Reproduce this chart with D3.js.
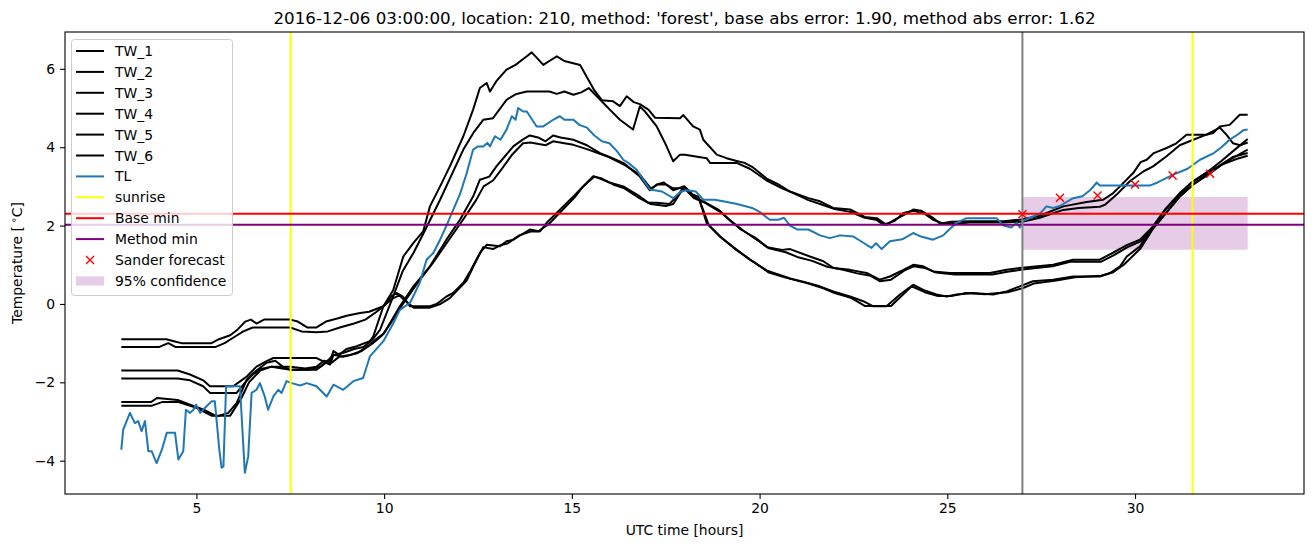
<!DOCTYPE html>
<html>
<head>
<meta charset="utf-8">
<script src="https://cdn.jsdelivr.net/npm/d3@7"></script>
<style>
body { margin: 0; background: #fff; }
text { font-family: "DejaVu Sans", sans-serif; fill: #000; }
</style>
</head>
<body>
<script>
/** Chart data (hours, degrees C) **/
var tw1 = [[3,-0.9],[4.2,-0.9],[4.4,-0.95],[4.6,-1.0],[5.4,-1.0],[5.6,-0.9],[5.9,-0.8],[6.1,-0.65],[6.3,-0.45],[6.45,-0.4],[6.6,-0.5],[6.8,-0.4],[7.5,-0.4],[7.7,-0.45],[7.95,-0.6],[8.2,-0.6],[8.45,-0.45],[8.8,-0.36],[9.0,-0.3],[9.36,-0.23],[9.6,-0.2],[9.98,-0.06],[10.2,0.2],[10.33,0.28],[10.5,0.19],[10.69,-0.06],[11.22,-0.06],[11.4,0.0],[11.66,0.19],[11.84,0.28],[12.11,0.54],[12.3,0.85],[12.55,1.3],[12.73,1.51],[13.08,1.47],[13.26,1.6],[13.44,1.64],[13.88,1.9],[14.15,1.85],[14.33,2.07],[14.5,2.23],[15.04,2.74],[15.22,2.92],[15.57,3.26],[15.75,3.2],[16.0,3.1],[16.37,3.0],[16.8,2.75],[17.04,2.58],[17.26,2.58],[17.6,2.55],[17.8,2.75],[18.0,3.0],[18.2,2.8],[18.37,2.74],[18.59,2.07],[18.94,1.72],[19.3,1.45],[19.74,1.13],[20.2,0.85],[20.5,0.75],[20.81,0.65],[21.16,0.57],[21.6,0.45],[21.96,0.32],[22.41,0.19],[22.76,0.07],[23.03,-0.06],[23.38,-0.06],[23.74,0.24],[24.09,0.49],[24.36,0.36],[24.71,0.24],[24.98,0.19],[25.25,0.24],[25.69,0.28],[26.22,0.24],[26.58,0.32],[26.93,0.45],[27.28,0.58],[27.82,0.62],[28.35,0.7],[29.06,0.7],[29.33,0.79],[29.6,0.96],[29.78,1.21],[30.13,1.47],[30.48,1.98],[30.8,2.4],[31.2,2.8],[31.5,3.1],[31.9,3.35],[32.2,3.5],[32.6,3.75],[33,3.85]];
var tw2 = [[3,-1.1],[4.0,-1.1],[4.25,-1.0],[4.45,-1.1],[5.0,-1.1],[5.5,-1.1],[5.75,-1.0],[6.0,-0.85],[6.25,-0.7],[6.5,-0.6],[7.5,-0.6],[7.8,-0.7],[8.2,-0.72],[8.5,-0.7],[8.82,-0.6],[9.2,-0.5],[9.5,-0.4],[9.8,-0.2],[10.05,0.0],[10.25,0.15],[10.4,0.22],[10.6,0.05],[10.8,-0.1],[11.2,-0.1],[11.5,0.0],[11.75,0.15],[12.0,0.4],[12.2,0.6],[12.4,1.0],[12.64,1.45],[12.9,1.4],[13.1,1.5],[13.3,1.55],[13.6,1.75],[13.9,1.85],[14.1,1.85],[14.4,2.05],[14.6,2.25],[15.1,2.75],[15.3,3.0],[15.6,3.25],[15.8,3.2],[16.1,3.05],[16.4,2.95],[16.8,2.7],[17.1,2.55],[17.5,2.5],[17.7,2.55],[17.9,2.85],[18.05,2.95],[18.25,2.75],[18.4,2.65],[18.65,2.0],[19.0,1.68],[19.35,1.4],[19.8,1.1],[20.25,0.8],[20.6,0.7],[20.9,0.62],[21.3,0.52],[21.7,0.4],[22.0,0.28],[22.45,0.15],[22.8,-0.05],[23.5,-0.05],[23.8,0.22],[24.05,0.45],[24.4,0.3],[24.75,0.2],[25.1,0.2],[25.5,0.28],[26.0,0.25],[26.6,0.3],[27.0,0.4],[27.3,0.52],[27.9,0.6],[28.4,0.68],[29.1,0.72],[29.4,0.8],[29.7,1.0],[30.15,1.42],[30.5,1.95],[30.85,2.35],[31.2,2.75],[31.55,3.05],[31.9,3.3],[32.3,3.55],[32.7,3.7],[33,3.78]];
var tw3 = [[3,-1.7],[4.5,-1.7],[4.83,-1.8],[5.18,-1.95],[5.36,-2.1],[5.98,-2.1],[6.2,-1.95],[6.34,-1.85],[6.6,-1.6],[6.87,-1.46],[7.05,-1.38],[7.5,-1.38],[8.2,-1.38],[8.45,-1.5],[8.56,-1.45],[8.65,-1.2],[8.8,-1.3],[9.0,-1.15],[9.27,-1.08],[9.62,-0.95],[9.71,-0.83],[9.98,-0.06],[10.24,0.35],[10.51,1.21],[10.78,1.56],[11.04,1.85],[11.22,2.49],[11.49,3.0],[11.75,3.51],[12.11,4.28],[12.37,4.96],[12.55,5.51],[12.73,5.64],[12.82,5.42],[13.0,5.7],[13.26,5.98],[13.5,6.1],[13.8,6.32],[13.93,6.42],[14.05,6.3],[14.24,6.1],[14.4,6.2],[14.6,6.32],[14.8,6.2],[15.22,6.1],[15.45,5.7],[15.6,5.45],[15.8,5.2],[16.1,5.17],[16.28,5.05],[16.46,5.3],[16.65,5.15],[16.81,5.1],[17.04,4.96],[17.22,4.75],[17.88,4.74],[17.97,4.82],[18.23,4.53],[18.41,4.45],[18.5,4.19],[18.86,3.81],[19.12,3.72],[19.39,3.65],[19.6,3.6],[19.8,3.5],[20.19,3.2],[20.5,3.05],[20.81,2.87],[21.3,2.7],[21.61,2.62],[21.96,2.45],[22.41,2.41],[22.8,2.22],[23.12,2.19],[23.38,2.02],[23.6,2.15],[23.9,2.3],[24.09,2.41],[24.3,2.38],[24.62,2.2],[24.8,2.05],[25.1,2.1],[25.6,2.11],[26.5,2.11],[26.93,2.15],[27.2,2.2],[27.46,2.25],[28.09,2.49],[28.71,2.6],[29.15,2.66],[29.42,2.83],[29.6,3.0],[29.95,3.34],[30.15,3.62],[30.31,3.68],[30.5,3.85],[30.84,3.98],[31.1,4.1],[31.37,4.32],[31.9,4.32],[32.08,4.36],[32.26,4.53],[32.52,4.57],[32.79,4.83],[33,4.83]];
var tw4 = [[3,-1.9],[4.5,-1.9],[4.83,-1.95],[5.18,-2.1],[5.36,-2.27],[6.07,-2.27],[6.3,-2.0],[6.5,-1.8],[6.75,-1.65],[7.0,-1.6],[7.5,-1.68],[8.0,-1.68],[8.3,-1.6],[8.55,-1.4],[8.65,-1.3],[8.9,-1.25],[9.2,-1.15],[9.45,-1.1],[9.7,-0.9],[9.89,-0.66],[10.24,0.19],[10.5,0.85],[10.78,1.3],[11.1,1.9],[11.49,2.66],[11.8,3.3],[12.11,3.94],[12.4,4.4],[12.64,4.7],[12.9,4.74],[13.1,5.0],[13.26,5.21],[13.5,5.35],[13.8,5.42],[14.4,5.42],[14.6,5.36],[14.8,5.42],[15.04,5.34],[15.25,5.4],[15.45,5.51],[15.84,5.13],[16.01,4.96],[16.28,4.7],[16.63,4.45],[16.81,5.04],[16.95,4.91],[17.26,4.53],[17.48,4.11],[17.7,3.64],[17.88,3.81],[18.01,3.81],[18.59,3.72],[18.68,3.6],[19.39,3.6],[19.74,3.45],[20.19,3.15],[20.6,2.95],[20.9,2.83],[21.3,2.65],[21.61,2.55],[22.0,2.42],[22.41,2.35],[22.8,2.2],[23.1,2.15],[23.3,2.02],[23.6,2.12],[23.83,2.32],[24.1,2.38],[24.4,2.3],[24.62,2.15],[24.9,2.05],[25.3,2.05],[25.6,2.08],[26.5,2.08],[27.0,2.1],[27.46,2.2],[28.09,2.4],[28.5,2.45],[29.06,2.48],[29.2,2.53],[29.51,2.79],[29.86,3.13],[30.22,3.38],[30.48,3.51],[30.84,3.77],[31.19,4.05],[31.55,4.19],[31.9,4.32],[32.26,4.5],[32.45,4.3],[32.61,4.1],[32.8,4.05],[33,4.12]];
var tw5 = [[3,-2.5],[3.8,-2.5],[3.95,-2.4],[4.5,-2.45],[4.92,-2.6],[5.2,-2.7],[5.54,-2.87],[5.85,-2.78],[6.07,-2.53],[6.34,-1.93],[6.52,-1.76],[6.87,-1.5],[7.1,-1.45],[7.3,-1.6],[7.5,-1.68],[8.2,-1.68],[8.45,-1.5],[8.56,-1.55],[8.65,-1.3],[8.9,-1.35],[9.3,-1.25],[9.6,-1.05],[9.85,-0.85],[10.0,-0.75],[10.42,-0.06],[10.78,0.45],[11.22,0.96],[11.66,1.64],[12.02,2.15],[12.37,2.74],[12.55,3.17],[12.8,3.25],[12.99,3.51],[13.2,3.75],[13.44,4.02],[13.7,4.2],[13.88,4.3],[14.1,4.25],[14.3,4.15],[14.5,4.3],[14.7,4.25],[15.04,4.19],[15.4,4.05],[15.75,3.85],[16.0,3.75],[16.37,3.6],[16.81,3.25],[17.08,2.9],[17.26,3.05],[17.45,3.1],[17.7,2.9],[17.97,3.0],[18.2,2.75],[18.5,2.62],[18.9,2.41],[19.2,2.15],[19.5,1.9],[19.9,1.68],[20.2,1.45],[20.6,1.38],[20.81,1.4],[21.34,1.21],[21.7,1.09],[21.96,0.92],[22.41,0.87],[22.85,0.79],[23.2,0.62],[23.47,0.7],[23.83,0.87],[24.09,1.0],[24.36,0.96],[24.62,0.83],[25.07,0.79],[26.13,0.79],[26.58,0.87],[26.93,0.92],[27.82,1.0],[28.35,1.13],[29.06,1.13],[29.4,1.3],[29.78,1.5],[30.13,1.64],[30.48,1.98],[30.8,2.41],[31.19,2.83],[31.5,3.09],[31.9,3.35],[32.3,3.65],[32.61,3.9],[33,4.21]];
var tw6 = [[3,-2.6],[3.8,-2.6],[4.1,-2.5],[4.5,-2.5],[5.0,-2.65],[5.4,-2.85],[5.9,-2.85],[6.2,-2.4],[6.4,-2.0],[6.7,-1.7],[7.0,-1.6],[7.5,-1.6],[7.9,-1.65],[8.2,-1.6],[8.4,-1.45],[8.6,-1.5],[8.8,-1.35],[9.1,-1.3],[9.4,-1.2],[9.7,-1.0],[9.95,-0.8],[10.2,-0.45],[10.5,0.0],[10.9,0.55],[11.3,1.05],[11.7,1.6],[12.1,2.15],[12.45,2.65],[12.65,3.0],[12.9,3.15],[13.1,3.4],[13.4,3.8],[13.7,4.1],[13.9,4.12],[14.3,4.05],[14.5,4.15],[14.8,4.1],[15.04,4.06],[15.4,3.95],[15.93,3.77],[16.4,3.55],[16.81,3.3],[17.1,2.95],[17.3,3.05],[17.5,3.05],[17.7,2.95],[18.0,2.95],[18.25,2.7],[18.55,2.58],[18.95,2.35],[19.25,2.1],[19.6,1.85],[19.95,1.62],[20.25,1.42],[20.7,1.32],[21.0,1.2],[21.4,1.1],[21.8,0.95],[22.2,0.88],[22.6,0.78],[22.95,0.72],[23.2,0.58],[23.5,0.62],[23.85,0.85],[24.1,0.96],[24.4,0.92],[24.7,0.8],[25.2,0.75],[26.2,0.75],[26.6,0.82],[27.0,0.88],[27.8,0.96],[28.3,1.08],[29.1,1.08],[29.45,1.25],[29.8,1.45],[30.15,1.6],[30.5,1.95],[30.85,2.35],[31.2,2.75],[31.55,3.05],[31.95,3.3],[32.3,3.55],[32.65,3.75],[33,3.94]];
var tl = [[3.0,-3.72],[3.05,-3.21],[3.23,-2.78],[3.36,-3.04],[3.45,-2.99],[3.54,-3.25],[3.63,-2.99],[3.72,-3.76],[3.81,-3.76],[3.94,-4.06],[4.08,-3.72],[4.21,-3.29],[4.43,-3.29],[4.52,-3.97],[4.65,-3.76],[4.72,-2.7],[4.83,-2.78],[4.92,-2.7],[4.99,-2.57],[5.1,-2.78],[5.27,-2.61],[5.41,-2.48],[5.49,-2.48],[5.61,-3.72],[5.67,-4.18],[5.72,-4.15],[5.79,-2.1],[6.16,-2.1],[6.29,-4.31],[6.38,-3.89],[6.47,-2.27],[6.6,-2.19],[6.69,-2.02],[6.82,-2.36],[6.91,-2.7],[7.05,-2.36],[7.18,-2.19],[7.27,-2.27],[7.4,-1.97],[7.54,-2.02],[7.76,-2.08],[7.94,-2.02],[8.2,-2.1],[8.47,-2.36],[8.65,-2.06],[8.91,-2.19],[9.18,-1.97],[9.44,-1.89],[9.62,-1.34],[9.98,-0.95],[10.24,-0.5],[10.42,-0.15],[10.69,0.03],[10.95,0.54],[11.13,1.13],[11.31,1.3],[11.49,1.64],[11.66,2.0],[11.84,2.4],[12.02,2.8],[12.2,3.34],[12.37,3.94],[12.5,4.02],[12.64,4.02],[12.75,4.11],[12.82,4.02],[12.95,4.28],[13.1,4.19],[13.26,4.45],[13.4,4.79],[13.5,4.7],[13.57,5.0],[13.7,4.91],[13.8,4.91],[14.06,4.53],[14.24,4.53],[14.5,4.7],[14.68,4.79],[14.8,4.7],[15.04,4.7],[15.2,4.57],[15.4,4.5],[15.6,4.3],[15.8,4.15],[16.0,4.1],[16.2,3.9],[16.37,3.68],[16.5,3.6],[16.72,3.43],[16.9,3.17],[17.08,2.92],[17.2,2.9],[17.4,2.87],[17.7,2.7],[17.9,2.87],[18.06,2.9],[18.3,2.87],[18.5,2.66],[18.8,2.66],[19.03,2.62],[19.4,2.55],[19.8,2.45],[20.0,2.35],[20.27,2.15],[20.5,2.15],[20.65,2.2],[20.81,2.0],[21.0,1.9],[21.3,1.9],[21.61,1.75],[21.87,1.68],[22.14,1.75],[22.5,1.72],[22.7,1.6],[22.98,1.43],[23.1,1.55],[23.25,1.4],[23.47,1.6],[23.8,1.65],[24.09,1.81],[24.3,1.72],[24.62,1.64],[24.89,1.75],[25.05,1.9],[25.25,2.07],[25.51,2.19],[26.31,2.19],[26.5,2.0],[26.7,1.95],[26.85,2.07],[26.93,1.95],[27.0,2.11],[27.2,2.2],[27.46,2.3],[27.64,2.49],[27.82,2.45],[28.0,2.5],[28.35,2.7],[28.6,2.75],[28.8,2.9],[28.98,3.1],[29.06,3.02],[30.39,3.02],[30.6,3.1],[31.02,3.3],[31.4,3.45],[31.73,3.68],[32.1,3.85],[32.3,4.0],[32.52,4.19],[32.7,4.3],[32.88,4.43],[33.0,4.45]];

var twNames = ["TW_1", "TW_2", "TW_3", "TW_4", "TW_5", "TW_6"];
var twSeries = [tw1, tw2, tw3, tw4, tw5, tw6];

var sunriseHours = [7.51, 31.53];
var forecastHour = 27;
var baseMin = 2.3;
var methodMin = 2.02;

var sanderHours = [27, 28, 29, 30, 31, 32];
var sanderValues = [2.29, 2.71, 2.77, 3.05, 3.28, 3.32];

var confHours = [27, 33];
var confLow = [1.38, 1.38];
var confHigh = [2.73, 2.73];

var xTicks = [5, 10, 15, 20, 25, 30];
var yTicks = [-4, -2, 0, 2, 4, 6];

var titleText = "2016-12-06 03:00:00, location: 210, method: 'forest', base abs error: 1.90, method abs error: 1.62";

function drawChart()
{
	var W = 1313, H = 547;
	var left = 65, top = 32, pw = 1239, ph = 462;
	var fs = 13.9;

	var svg = d3.select("body").append("svg")
		.attr("width", W)
		.attr("height", H);

	var x = d3.scaleLinear().domain([1.5, 34.5]).range([left, left + pw]);
	var y = d3.scaleLinear().domain([-4.85, 6.94]).range([top + ph, top]);

	svg.append("clipPath").attr("id", "plotclip")
		.append("rect")
		.attr("x", left).attr("y", top)
		.attr("width", pw).attr("height", ph);

	var plot = svg.append("g").attr("clip-path", "url(#plotclip)");

	// confidence band
	var band = confHours.map(function(h, i) { return [h, confLow[i], confHigh[i]]; });
	plot.append("path")
		.attr("d", d3.area().x(function(d) { return x(d[0]); })
			.y0(function(d) { return y(d[1]); })
			.y1(function(d) { return y(d[2]); })(band))
		.attr("fill", "purple")
		.attr("fill-opacity", 0.2);

	var line = d3.line()
		.x(function(d) { return x(d[0]); })
		.y(function(d) { return y(d[1]); });

	twSeries.forEach(function(s)
	{
		plot.append("path")
			.attr("d", line(s))
			.attr("fill", "none")
			.attr("stroke", "#000")
			.attr("stroke-width", 2)
			.attr("stroke-linejoin", "round");
	});

	plot.append("path")
		.attr("d", line(tl))
		.attr("fill", "none")
		.attr("stroke", "#1f77b4")
		.attr("stroke-width", 2)
		.attr("stroke-linejoin", "round");

	sunriseHours.forEach(function(h)
	{
		plot.append("line")
			.attr("x1", x(h)).attr("x2", x(h))
			.attr("y1", top).attr("y2", top + ph)
			.attr("stroke", "yellow").attr("stroke-width", 2);
	});

	[[baseMin, "red"], [methodMin, "purple"]].forEach(function(m)
	{
		plot.append("line")
			.attr("x1", left).attr("x2", left + pw)
			.attr("y1", y(m[0])).attr("y2", y(m[0]))
			.attr("stroke", m[1]).attr("stroke-width", 2);
	});

	plot.append("line")
		.attr("x1", x(forecastHour)).attr("x2", x(forecastHour))
		.attr("y1", top).attr("y2", top + ph)
		.attr("stroke", "gray").attr("stroke-width", 2);

	// Sander forecast crosses
	sanderHours.forEach(function(h, i)
	{
		drawCross(plot, x(h), y(sanderValues[i]));
	});

	// frame
	svg.append("rect")
		.attr("x", left).attr("y", top)
		.attr("width", pw).attr("height", ph)
		.attr("fill", "none").attr("stroke", "#000").attr("stroke-width", 1.1);

	var xAxis = svg.append("g")
		.attr("transform", "translate(0," + (top + ph) + ")")
		.call(d3.axisBottom(x).tickValues(xTicks).tickSize(4.9).tickPadding(4.4).tickFormat(d3.format("d")));
	var yAxis = svg.append("g")
		.attr("transform", "translate(" + left + ",0)")
		.call(d3.axisLeft(y).tickValues(yTicks).tickSize(4.9).tickPadding(4.9).tickFormat(function(d) { return d < 0 ? "\u2212" + (-d) : d; }));
	[xAxis, yAxis].forEach(function(a)
	{
		a.select(".domain").remove();
		a.selectAll("text").attr("font-size", fs).attr("font-family", "DejaVu Sans");
		a.selectAll("line").attr("stroke-width", 1.1);
	});

	svg.append("text")
		.attr("x", left + pw / 2).attr("y", 535)
		.attr("text-anchor", "middle")
		.attr("font-size", fs)
		.text("UTC time [hours]");

	var yl = svg.append("text")
		.attr("transform", "translate(22," + (top + ph / 2) + ") rotate(-90)")
		.attr("text-anchor", "middle")
		.attr("font-size", fs);
	yl.append("tspan").text("Temperature [\u2009");
	yl.append("tspan").attr("font-size", fs * 0.7).attr("dy", -5).text("\u2218");
	yl.append("tspan").attr("dy", 5).text("C]");

	svg.append("text")
		.attr("x", left + pw / 2).attr("y", 23.5)
		.attr("text-anchor", "middle")
		.attr("font-size", 16.7)
		.text(titleText);

	drawLegend(svg, fs);
}

function drawCross(g, cx, cy)
{
	var r = 4;
	g.append("path")
		.attr("d", "M" + (cx - r) + "," + (cy - r) + "L" + (cx + r) + "," + (cy + r) +
			"M" + (cx - r) + "," + (cy + r) + "L" + (cx + r) + "," + (cy - r))
		.attr("stroke", "red")
		.attr("stroke-width", 1.4);
}

function drawLegend(svg, fs)
{
	var lx = 71.5, ly = 39.5, lw = 161, lh = 256;
	var rowH = 20.9;

	var entries = twNames.map(function(n) { return {label: n, kind: "line", color: "#000"}; });
	entries.push({label: "TL", kind: "line", color: "#1f77b4"});
	entries.push({label: "sunrise", kind: "line", color: "yellow"});
	entries.push({label: "Base min", kind: "line", color: "red"});
	entries.push({label: "Method min", kind: "line", color: "purple"});
	entries.push({label: "Sander forecast", kind: "cross"});
	entries.push({label: "95% confidence", kind: "patch"});

	var g = svg.append("g");
	g.append("rect")
		.attr("x", lx).attr("y", ly)
		.attr("width", lw).attr("height", lh)
		.attr("rx", 3)
		.attr("fill", "#fff").attr("fill-opacity", 0.8)
		.attr("stroke", "#cccccc").attr("stroke-width", 1);

	entries.forEach(function(e, i)
	{
		var cy = 51 + i * rowH;
		if (e.kind == "line")
		{
			g.append("line")
				.attr("x1", 76).attr("x2", 104)
				.attr("y1", cy).attr("y2", cy)
				.attr("stroke", e.color).attr("stroke-width", 2);
		}
		else if (e.kind == "cross")
		{
			drawCross(g, 90, cy);
		}
		else
		{
			g.append("rect")
				.attr("x", 76).attr("y", cy - 4.6)
				.attr("width", 28).attr("height", 9.3)
				.attr("fill", "purple").attr("fill-opacity", 0.2);
		}
		g.append("text")
			.attr("x", 115).attr("y", cy)
			.attr("dy", "0.36em")
			.attr("font-size", fs)
			.text(e.label);
	});
}

drawChart();
</script>
</body>
</html>
